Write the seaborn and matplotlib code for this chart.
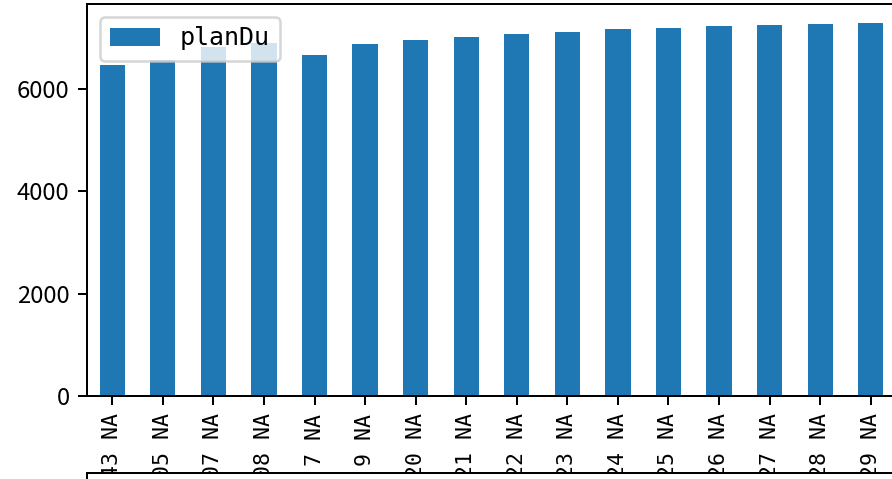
import matplotlib
matplotlib.use('Agg')
import matplotlib.pyplot as plt
import seaborn as sns
import pandas as pd

plt.rcParams['font.family'] = ['Noto Sans CJK SC', 'DejaVu Sans']

categories = ["1.43 NA", "1.05 NA", "1.07 NA", "1.08 NA", "1.7 NA", "1.9 NA",
              "1.20 NA", "1.21 NA", "1.22 NA", "1.23 NA", "1.24 NA", "1.25 NA",
              "1.26 NA", "1.27 NA", "1.28 NA", "1.29 NA"]
plan_du = [6455, 6567, 6815, 6899, 6664, 6879, 6958, 7016, 7075, 7114,
           7173, 7192, 7231, 7251, 7270, 7290]
series_name = "planDu"
y_ticks = [0, 2000, 4000, 6000]

W, H, DPI = 892, 479, 180
fig = plt.figure(figsize=(W / DPI, H / DPI), dpi=DPI)
ax = fig.add_axes([87 / W, 1 - 396 / H, (896 - 87) / W, (396 - 4) / H])

df = pd.DataFrame({"cat": categories, series_name: plan_du})
sns.barplot(data=df, x="cat", y=series_name, width=0.5, color="#1f77b4",
            saturation=1, linewidth=0, label=series_name, ax=ax)

ax.set_xlabel("")
ax.set_ylabel("")
ax.set_ylim(0, max(plan_du) * 1.05)
ax.set_yticks(y_ticks)
ax.tick_params(labelsize=9.5)
for t in ax.get_xticklabels():
    t.set_rotation(90)
    t.set_fontfamily(["DejaVu Sans Mono"])
    t.set_fontsize(8.6)

ax.legend(loc="upper left", prop={"family": "DejaVu Sans Mono", "size": 10})

# lower (cropped) axes covering the tail of the tick labels
ax2 = fig.add_axes([87 / W, -0.5, 1.0, 0.5 + (1 - 473 / H)])
ax2.set_zorder(3)
ax2.set_facecolor("white")
ax2.set_xticks([])
ax2.set_yticks([])
ax2.spines["right"].set_visible(False)
ax2.spines["bottom"].set_visible(False)

fig.savefig("out.png", dpi=DPI)
